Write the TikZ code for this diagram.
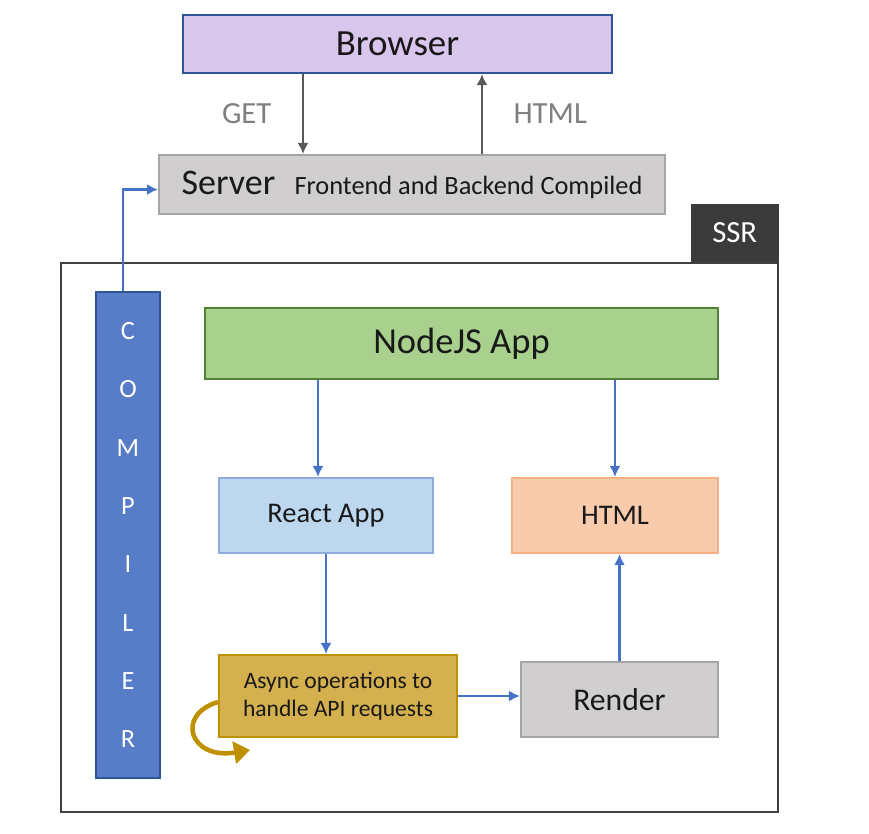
\documentclass[tikz,border=0pt]{standalone}
\usepackage{fontspec}
\setmainfont{Carlito}
\usetikzlibrary{positioning, arrows.meta}
\definecolor{browserfill}{RGB}{216,198,236}
\definecolor{darkline}{RGB}{47,85,151}
\definecolor{greyfill}{RGB}{208,206,206}
\definecolor{greyline}{RGB}{165,165,165}
\definecolor{ssrfill}{RGB}{59,59,59}
\definecolor{framegrey}{RGB}{64,64,64}
\definecolor{compfill}{RGB}{87,125,200}
\definecolor{nodefill}{RGB}{169,209,142}
\definecolor{nodeline}{RGB}{84,130,53}
\definecolor{reactfill}{RGB}{189,215,238}
\definecolor{reactline}{RGB}{143,170,220}
\definecolor{htmlfill}{RGB}{248,203,173}
\definecolor{htmlline}{RGB}{244,177,131}
\definecolor{asyncfill}{RGB}{212,176,78}
\definecolor{asyncline}{RGB}{191,144,0}
\definecolor{flowblue}{RGB}{68,114,196}
\definecolor{flowgrey}{RGB}{89,89,89}
\definecolor{labelgrey}{RGB}{127,127,127}
\newcommand{\flowarrow}{-{Latex[length=2.2mm,width=2.2mm]}}
\newcommand{\fsize}[1]{\fontsize{#1}{1.2\dimexpr#1pt\relax}\selectfont}

\begin{document}
\begin{tikzpicture}[x=0.02cm, y=-0.02cm,
        box/.style={draw, line width=1.2pt, inner sep=0pt, align=center, text=black!90},
        blueflow/.style={flowblue, line width=1.3pt},
        greyflow/.style={flowgrey, line width=1.3pt}]
        \useasboundingbox (0,0) rectangle (869,833);
        % top: browser and server
        \node[box, fill=browserfill, draw=darkline, minimum width=8.58cm, minimum height=1.16cm, font=\fsize{21}] (browser) at (397.5,44) {Browser};
        \node[box, fill=greyfill, draw=greyline, minimum width=10.12cm, minimum height=1.18cm] (server) at (412,184.5)
        {\fsize{20.5}Server\hspace{11pt}\fsize{15}Frontend and Backend Compiled};
        \draw[\flowarrow, greyflow] ([xshift=-1.89cm]browser.south) -- ([xshift=-1.89cm]browser.south |- server.north)
        node[left=14pt, pos=0.5, text=labelgrey, font=\fsize{17.5}] { GET };
        \draw[\flowarrow, greyflow] ([xshift=1.69cm]browser.south |- server.north) -- ([xshift=1.69cm]browser.south)
        node[right=14pt, pos=0.5, text=labelgrey, font=\fsize{17.5}] { HTML };
        % SSR frame
        \node[draw=framegrey, line width=1.3pt, minimum width=14.34cm, minimum height=10.98cm] (frame) at (419.5,537.5) {};
        \node[fill=ssrfill, text=white, minimum width=1.76cm, minimum height=1.16cm, font=\fsize{17.5}, anchor=south east] (ssr) at (frame.north east) {SSR};
        \node[box, fill=compfill, draw=darkline, text=white, minimum width=1.28cm, minimum height=9.72cm, font=\fontsize{15}{33.2}\selectfont] (compiler) at (128,535)
        {C\\O\\M\\P\\I\\L\\E\\R};
        \draw[\flowarrow, blueflow] ([xshift=-0.1cm]compiler.north) |- ([yshift=-0.1cm]server.west);
        % inside the frame
        \node[box, fill=nodefill, draw=nodeline, minimum width=10.26cm, minimum height=1.42cm, font=\fsize{20.8}] (nodejs) at (461.5,343.5) {NodeJS App};
        \node[box, fill=reactfill, draw=reactline, minimum width=4.28cm, minimum height=1.5cm, font=\fsize{16.2}] (react) at (326,515.5) {React App};
        \node[box, fill=htmlfill, draw=htmlline, minimum width=4.12cm, minimum height=1.5cm, font=\fsize{16.2}] (html) at (615,515.5) {HTML};
        \node[box, fill=asyncfill, draw=asyncline, minimum width=4.76cm, minimum height=1.64cm, font=\fontsize{13.4}{15.8}\selectfont] (async) at (338,696)
        {Async operations to\\handle API requests};
        \node[box, fill=greyfill, draw=greyline, minimum width=3.94cm, minimum height=1.5cm, font=\fsize{18}] (render) at (619.5,699.5) {Render};
        \draw[\flowarrow, blueflow] ([xshift=-0.16cm]react.north |- nodejs.south) -- ([xshift=-0.16cm]react.north);
        \draw[\flowarrow, blueflow] (html.north |- nodejs.south) -- (html.north);
        \draw[\flowarrow, blueflow] (react.south) -- (react.south |- async.north);
        \draw[\flowarrow, blueflow] (async.east) -- (async.east -| render.west);
        \draw[\flowarrow, blueflow] (render.north) -- (render.north |- html.south);
        \coordinate (loopend) at (250,750);
        \draw[-{Triangle[length=3.2mm,width=4.4mm]}, asyncline, line width=2.6pt] ([yshift=-0.12cm]async.west) .. controls (175,715) and (190,760) .. (loopend);
    \end{tikzpicture}
\end{document}
